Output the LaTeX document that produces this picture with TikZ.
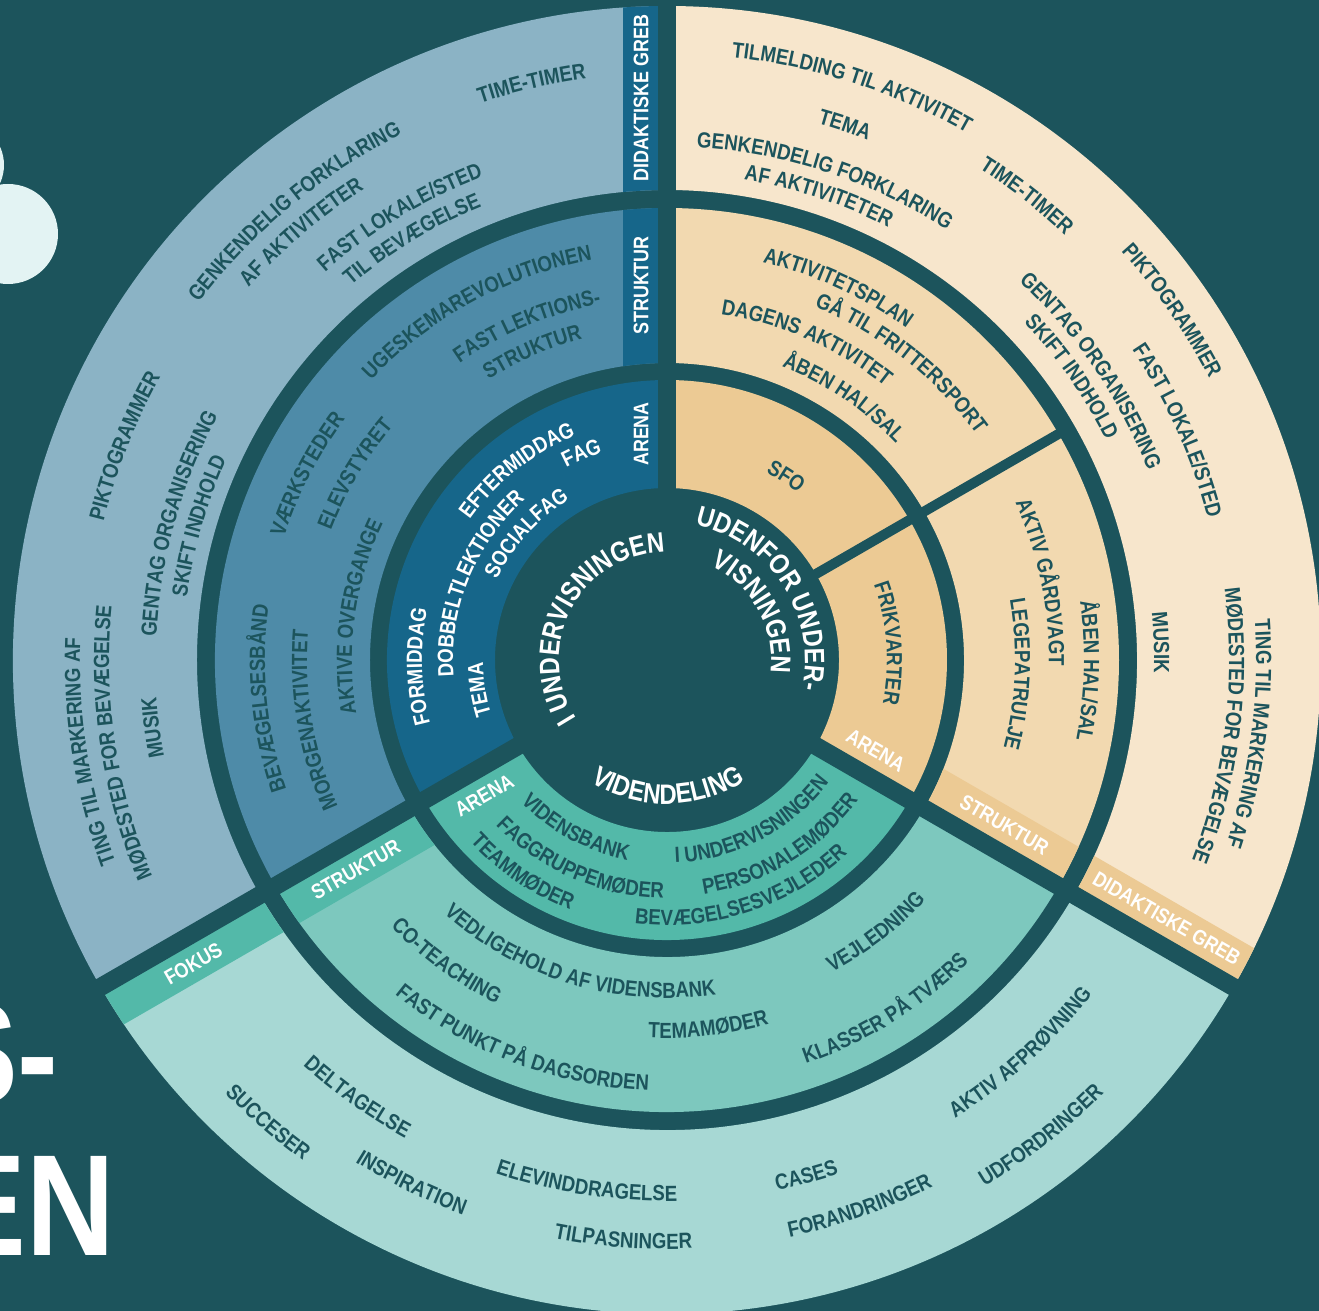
\documentclass[tikz,border=0pt]{standalone}
\usepackage{fontspec}
\usetikzlibrary{calc,decorations.text}
\newfontfamily\lblfont{Liberation Sans}[FakeStretch=0.85]
\newcommand\lbl{\lblfont\bfseries\fontsize{12.5}{14}\selectfont}
\newcommand\ctrfont{\lblfont\bfseries\fontsize{16}{18}\selectfont}
\newcommand\stripfont{\lblfont\bfseries\fontsize{12}{14}\selectfont}
\newcommand\titlefont{\lblfont\bfseries\fontsize{82}{90}\selectfont}

\definecolor{bg}{HTML}{1C545C}
\definecolor{dk}{HTML}{1C545C}
\definecolor{pale}{HTML}{E3F3F3}
\definecolor{blueA}{HTML}{16668A}
\definecolor{blueB}{HTML}{4E8BA8}
\definecolor{blueC}{HTML}{8BB3C5}
\definecolor{orangeA}{HTML}{ECCA94}
\definecolor{orangeB}{HTML}{F2D9B0}
\definecolor{orangeC}{HTML}{F7E6CC}
\definecolor{tealA}{HTML}{53B9A9}
\definecolor{tealB}{HTML}{7DC8BE}
\definecolor{tealC}{HTML}{A7D8D4}

\tikzset{
	gap/.style = {draw=bg, line width=0.36cm},
	subgap/.style = {draw=bg, line width=0.2cm},
	striptext/.style = {text=white, font=\stripfont, inner sep=0pt},
	title/.style = {text=white, font=\titlefont, inner sep=0pt}
}

\newcommand\ringpart[5]{\fill[#1] (#2:#4) arc[start angle=#2,end angle=#3,radius=#4] -- (#3:#5) arc[start angle=#3,end angle=#2,radius=#5] -- cycle;}
\newcommand\ringstrip[5]{\begin{scope}
	\clip (#2:#4) arc[start angle=#2,end angle=#3,radius=#4] -- (#3:#5) arc[start angle=#3,end angle=#2,radius=#5] -- cycle;
	\fill[#1,rotate=#2] (0,0) rectangle (700,44);
	\end{scope}}
\newcommand\cwlbl[4][dk]{\path[decorate,decoration={text along path,text align=center,text color=#1,text={|\lbl|#4}}] ({#2+80}:{#3-8}) arc[start angle={#2+80},end angle={#2-80},radius={#3-8}];}
\newcommand\ccwlbl[4][dk]{\path[decorate,decoration={text along path,text align=center,text color=#1,text={|\lbl|#4}}] ({#2-80}:{#3+8}) arc[start angle={#2-80},end angle={#2+80},radius={#3+8}];}

\begin{document}
\begin{tikzpicture}[x=0.02cm, y=0.02cm]
	\useasboundingbox (-667,-651) rectangle (652,660);
	\clip (-667,-651) rectangle (652,660);
	\fill[bg] (-667,-651) rectangle (652,660);

	\fill[pale] (-659,426) circle (50);
	\fill[pale] (-707,495) circle (44);
	\node[title, anchor=base east] (t1) at (-608,-443) {S-};
	\node[title, anchor=base east] (t2) at (-552,-595) {EN};

	% i undervisningen
	\ringpart{blueA}{90}{210}{172}{280}
	\ringpart{blueB}{90}{210}{297}{452}
	\ringpart{blueC}{90}{210}{470}{654}
	\ringstrip{blueA}{90}{210}{297}{452}
	\ringstrip{blueA}{90}{210}{470}{654}
	% videndeling
	\ringpart{tealA}{210}{330}{172}{280}
	\ringpart{tealB}{210}{330}{297}{452}
	\ringpart{tealC}{210}{330}{470}{654}
	\ringstrip{tealA}{210}{330}{297}{452}
	\ringstrip{tealA}{210}{330}{470}{654}
	% udenfor undervisningen
	\ringpart{orangeA}{-30}{90}{172}{280}
	\ringpart{orangeB}{-30}{90}{297}{452}
	\ringpart{orangeC}{-30}{90}{470}{654}
	\ringstrip{orangeA}{-30}{90}{297}{452}
	\ringstrip{orangeA}{-30}{90}{470}{654}

	\draw[gap] (0,0) -- (90:700);
	\draw[gap] (0,0) -- (210:700);
	\draw[gap] (0,0) -- (330:700);
	\draw[subgap] (30:165) -- (30:458);

	\node[striptext, rotate=90] (bA) at ($(90:226)+(180:26)$) {ARENA};
	\node[striptext, rotate=90] (bS) at ($(90:374.5)+(180:26)$) {STRUKTUR};
	\node[striptext, rotate=90] (bD) at ($(90:562)+(180:26)$) {DIDAKTISKE GREB};
	\node[striptext, rotate=-30] (oA) at ($(330:226)+(60:26)$) {ARENA};
	\node[striptext, rotate=-30] (oS) at ($(330:374.5)+(60:26)$) {STRUKTUR};
	\node[striptext, rotate=-30] (oD) at ($(330:562)+(60:26)$) {DIDAKTISKE GREB};
	\node[striptext, rotate=30] (tA) at ($(210:226)+(300:26)$) {ARENA};
	\node[striptext, rotate=30] (tS) at ($(210:374.5)+(300:26)$) {STRUKTUR};
	\node[striptext, rotate=30] (tF) at ($(210:562)+(300:26)$) {FOKUS};

	\path[decorate,decoration={text along path,text align=center,text color=white,text={|\ctrfont|I UNDERVISNINGEN}}] (232:108) arc[start angle=232,end angle=72,radius=108];
	\path[decorate,decoration={text along path,text align=center,text color=white,text={|\ctrfont|UDENFOR UNDER-}}] (113:138) arc[start angle=113,end angle=-47,radius=138];
	\path[decorate,decoration={text along path,text align=center,text color=white,text={|\ctrfont|VISNINGEN}}] (109:104) arc[start angle=109,end angle=-51,radius=104];
	\path[decorate,decoration={text along path,text align=center,text color=white,text={|\ctrfont|VIDENDELING}}] (190.5:144) arc[start angle=190.5,end angle=350.5,radius=144];

	\cwlbl[white]{128.4}{250}{EFTERMIDDAG}
	\cwlbl[white]{112.5}{225}{FAG}
	\cwlbl[white]{158}{222}{DOBBELTLEKTIONER}
	\cwlbl[white]{138}{196}{SOCIALFAG}
	\cwlbl[white]{181.5}{253}{FORMIDDAG}
	\cwlbl[white]{189}{192}{TEMA}

	\cwlbl{118.6}{415}{UGESKEMAREVOLUTIONEN}
	\cwlbl{112.7}{370}{FAST LEKTIONS-}
	\cwlbl{113.6}{340}{STRUKTUR}
	\cwlbl{152.7}{410}{VÆRKSTEDER}
	\cwlbl{149.2}{368}{ELEVSTYRET}
	\cwlbl{172}{323}{AKTIVE OVERGANGE}
	\cwlbl{185.5}{410}{BEVÆGELSESBÅND}
	\cwlbl{189.6}{368}{MORGENAKTIVITET}

	\cwlbl{103.2}{595}{TIME-TIMER}
	\cwlbl{129.7}{597}{GENKENDELIG FORKLARING}
	\cwlbl{130.5}{568}{AF AKTIVITETER}
	\cwlbl{121.1}{525}{FAST LOKALE/STED}
	\cwlbl{121.2}{498}{TIL BEVÆGELSE}
	\cwlbl{158.5}{588}{PIKTOGRAMMER}
	\cwlbl{164.4}{519}{GENTAG ORGANISERING}
	\cwlbl{164}{492}{SKIFT INDHOLD}
	\cwlbl{189}{595}{TING TIL MARKERING AF}
	\cwlbl{188.6}{566}{MØDESTED FOR BEVÆGELSE}
	\cwlbl{187.5}{520}{MUSIK}

	\cwlbl{72.1}{614}{TILMELDING TIL AKTIVITET}
	\cwlbl{71.6}{565}{TEMA}
	\cwlbl{71.8}{521}{GENKENDELIG FORKLARING}
	\cwlbl{71.9}{494}{AF AKTIVITETER}
	\cwlbl{52.2}{590}{TIME-TIMER}
	\cwlbl{34.7}{619}{PIKTOGRAMMER}
	\cwlbl{34.3}{525}{GENTAG ORGANISERING}
	\cwlbl{35}{499}{SKIFT INDHOLD}
	\cwlbl{24.2}{567}{FAST LOKALE/STED}
	\cwlbl{2}{495}{MUSIK}
	\cwlbl{-7.2}{597}{TING TIL MARKERING AF}
	\cwlbl{-6.8}{570}{MØDESTED FOR BEVÆGELSE}

	\cwlbl{65.3}{417}{AKTIVITETSPLAN}
	\cwlbl{51.7}{391}{GÅ TIL FRITTERSPORT}
	\cwlbl{66.3}{358}{DAGENS AKTIVITET}
	\cwlbl{56}{323}{ÅBEN HAL/SAL}
	\cwlbl{11.7}{390}{AKTIV GÅRDVAGT}
	\cwlbl{-1.5}{425}{ÅBEN HAL/SAL}
	\cwlbl{-2.3}{356}{LEGEPATRULJE}
	\cwlbl{57}{220}{SFO}
	\cwlbl{4.3}{228}{FRIKVARTER}

	\ccwlbl{241.5}{196}{VIDENSBANK}
	\ccwlbl{246.6}{230}{FAGGRUPPEMØDER}
	\ccwlbl{235.8}{260}{TEAMMØDER}
	\ccwlbl{297.6}{195}{I UNDERVISNINGEN}
	\ccwlbl{301.4}{229}{PERSONALEMØDER}
	\ccwlbl{288}{257}{BEVÆGELSESVEJLEDER}

	\ccwlbl{253.5}{330}{VEDLIGEHOLD AF VIDENSBANK}
	\ccwlbl{233.8}{376}{CO-TEACHING}
	\ccwlbl{249.2}{423}{FAST PUNKT PÅ DAGSORDEN}
	\ccwlbl{276.4}{370}{TEMAMØDER}
	\ccwlbl{307.5}{345}{VEJLEDNING}
	\ccwlbl{302}{419}{KLASSER PÅ TVÆRS}

	\ccwlbl{234.7}{537}{DELTAGELSE}
	\ccwlbl{229.2}{611}{SUCCESER}
	\ccwlbl{244}{583}{INSPIRATION}
	\ccwlbl{261.3}{533}{ELEVINDDRAGELSE}
	\ccwlbl{265.7}{581}{TILPASNINGER}
	\ccwlbl{285.1}{534}{CASES}
	\ccwlbl{289.4}{582}{FORANDRINGER}
	\ccwlbl{312}{533}{AKTIV AFPRØVNING}
	\ccwlbl{308.2}{607}{UDFORDRINGER}
\end{tikzpicture}
\end{document}
